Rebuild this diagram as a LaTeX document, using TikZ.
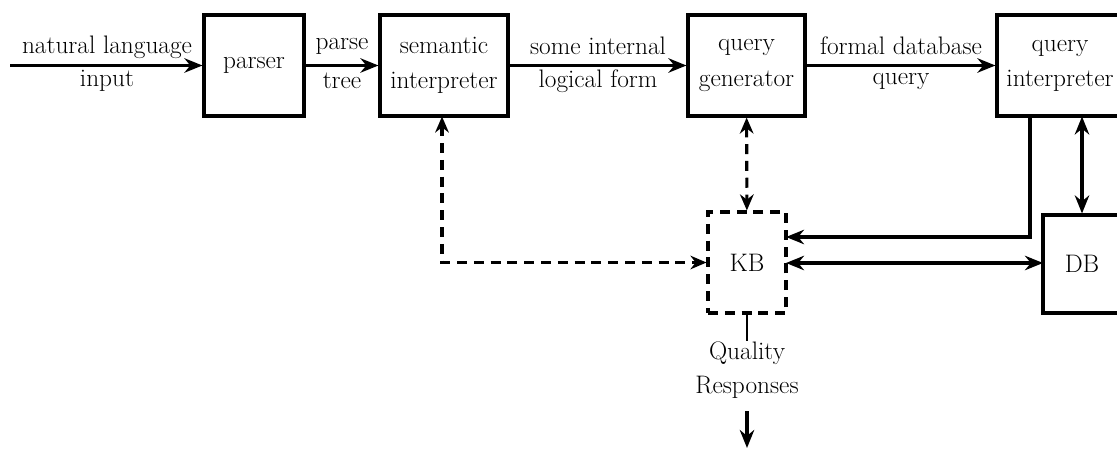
\documentclass[tikz,border=0pt]{standalone}
\usetikzlibrary{arrows.meta}
\begin{document}
\begin{tikzpicture}[x=0.025cm,y=-0.025cm,
  font=\fontsize{18}{25}\selectfont,
  box/.style={draw, line width=2.2pt, inner sep=0pt, align=center},
  dbox/.style={box, dash pattern=on 0.25cm off 0.17cm},
  lbl/.style={inner sep=0pt, align=center},
  conn/.style={line width=2.2pt},
  arr/.style={conn, -{Stealth[length=0.45cm,width=0.36cm]}},
  barr/.style={conn, {Stealth[length=0.45cm,width=0.36cm]}-{Stealth[length=0.45cm,width=0.36cm]}},
  dsh/.style={line width=2.2pt, dash pattern=on 0.25cm off 0.17cm, {Stealth[length=0.4cm,width=0.34cm,open]}-{Stealth[length=0.4cm,width=0.34cm,open]}}]
\useasboundingbox (0,0) rectangle (1117,452);
\clip (0,0) rectangle (1117,452);

% boxes
\node[box, minimum width=2.5cm, minimum height=2.525cm] (parser) at (254,65.5) {parser};
\node[box, minimum width=3.2cm, minimum height=2.525cm] (sem) at (444,65.5) {semantic\\interpreter};
\node[box, minimum width=2.925cm, minimum height=2.525cm] (qgen) at (746.5,65.5) {query\\generator};
\node[box, minimum width=3.15cm, minimum height=2.525cm] (qint) at (1060,65.5) {query\\interpreter};
\node[dbox, minimum width=1.95cm, minimum height=2.525cm] (kb) at (747,262.5) {KB};
\node[box, minimum width=1.95cm, minimum height=2.45cm] (db) at (1082,264) {DB};

% top chain
\coordinate (in) at (10,65.5);
\draw[arr] (in) -- (parser);
\draw[arr] (parser) -- (sem);
\draw[arr] (sem) -- (qgen);
\draw[arr] (qgen) -- (qint);

% labels on top chain
\node[lbl] (l1a) at (107,47) {natural language};
\node[lbl] (l1b) at (107,81) {input};
\node[lbl] (l2a) at (342,46) {parse};
\node[lbl] (l2b) at (342,81) {tree};
\node[lbl] (l3a) at (598,46) {some internal};
\node[lbl] (l3b) at (598,81) {logical form};
\node[lbl] (l4a) at (901,46) {formal database};
\node[lbl] (l4b) at (901,81) {query};

% dashed links
\coordinate (sdown) at (442,116.5);
\coordinate (scorner) at (442,262.5);
\draw[dsh] (sdown) -- (scorner) -- (kb.west);
\draw[dsh] (qgen) -- (kb);

% query interpreter to KB
\coordinate (qa) at (1030,116.5);
\coordinate (qb) at (1030,237);
\coordinate (qc) at (786,237);
\draw[arr] (qa) -- (qb) -- (qc);

% KB <-> DB
\coordinate (kbe) at (786,263);
\coordinate (dbw) at (1043,263);
\draw[barr] (kbe) -- (dbw);

% query interpreter <-> DB
\coordinate (qd) at (1082,116.5);
\draw[barr] (qd) -- (db.north);

% quality responses
\node[lbl] (q1) at (747,353) {Quality};
\node[lbl] (q2) at (747,387) {Responses};
\coordinate (out1) at (747,411);
\coordinate (out2) at (747,448);
\draw[conn, line width=1.4pt] (kb.south) -- (q1.north);
\draw[arr] (out1) -- (out2);
\end{tikzpicture}
\end{document}
